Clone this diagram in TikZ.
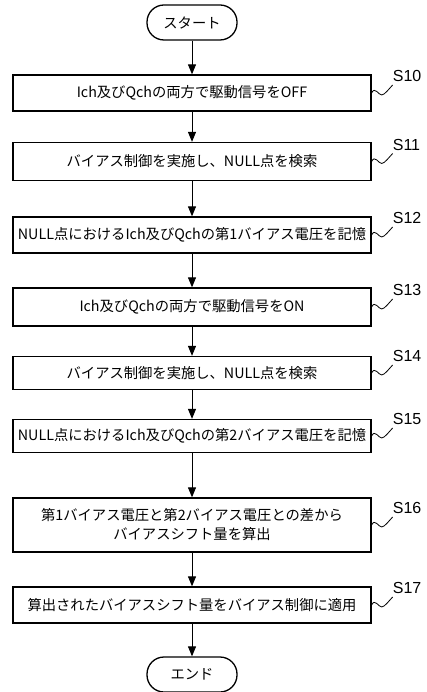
\documentclass[tikz,border=0pt]{standalone}
\usepackage{fontspec}
\setmainfont{Noto Sans CJK JP}
\newfontfamily\labfont{Liberation Sans}
\usetikzlibrary{arrows.meta}
\begin{document}
\begin{tikzpicture}[x=1pt,y=-1pt,
  stepbox/.style={draw,line width=1.3pt,minimum width=358pt,minimum height=36pt,inner sep=0pt,
    font=\fontsize{14.3}{19}\selectfont,align=center},
  term/.style={draw,line width=1.3pt,rounded corners=17pt,minimum width=90pt,minimum height=35pt,
    inner sep=0pt,font=\fontsize{14.3}{18}\selectfont},
  arr/.style={-{Triangle[width=8pt,length=10pt]},line width=1pt},
  tag/.style={font=\labfont\fontsize{16}{16}\selectfont,anchor=south west,inner sep=0pt},
  sq/.style={line width=0.8pt}]
\useasboundingbox (0,0) rectangle (427,692);

\node[term] (start) at (192,22.5) {スタート};
\node[stepbox] (s10) at (192,93) {Ich及びQchの両方で駆動信号をOFF};
\node[stepbox,minimum height=38pt] (s11) at (192,161.5) {バイアス制御を実施し、NULL点を検索};
\node[stepbox] (s12) at (192,235) {NULL点におけるIch及びQchの第1バイアス電圧を記憶};
\node[stepbox,minimum height=38pt] (s13) at (192,307) {Ich及びQchの両方で駆動信号をON};
\node[stepbox,minimum height=33pt] (s14) at (192,373) {バイアス制御を実施し、NULL点を検索};
\node[stepbox,minimum height=33pt] (s15) at (192,436) {NULL点におけるIch及びQchの第2バイアス電圧を記憶};
\node[stepbox,minimum height=54pt] (s16) at (192,525) {第1バイアス電圧と第2バイアス電圧との差から\\バイアスシフト量を算出};
\node[stepbox] (s17) at (192,605) {算出されたバイアスシフト量をバイアス制御に適用};
\node[term] (end) at (192,674.5) {エンド};

\foreach \a/\b in {start/s10,s10/s11,s11/s12,s12/s13,s13/s14,s14/s15,s15/s16,s16/s17,s17/end}
  \draw[arr] (\a) -- (\b);

\foreach \s in {10,11,12,13,14,15,16,17}{
  \node[tag] (l\s) at ([xshift=21pt,yshift=11pt]s\s.east) {S\s};
  \draw[sq] (s\s.east) .. controls +(3,-7) and +(-3,0) .. ++(10,2)
    .. controls +(3,0) and +(-3,3) .. ([yshift=-3pt]l\s.south west);
}
\end{tikzpicture}
\end{document}
